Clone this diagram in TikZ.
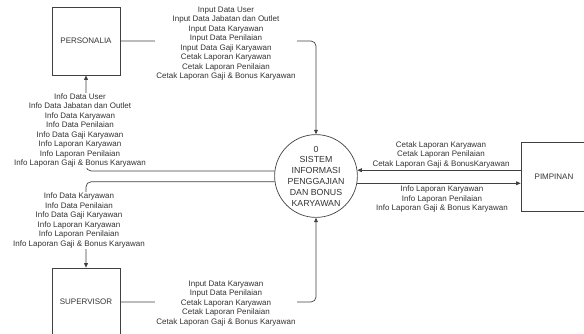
\documentclass[tikz,border=0pt]{standalone}
\usepackage{fontspec}
\setmainfont{Liberation Sans}
\usetikzlibrary{arrows.meta}
\begin{document}
\begin{tikzpicture}[x=1pt,y=-1pt,
  entity/.style={draw=black!75,line width=0.7pt,minimum width=68pt,minimum height=68pt,inner sep=0pt,
    text=black!80,font=\fontsize{8}{9.6}\selectfont},
  proc/.style={draw=black!75,line width=0.7pt,circle,minimum size=82pt,inner sep=0pt,align=center,
    text=black!80,font=\fontsize{8.8}{10.8}\selectfont},
  lbl/.style={fill=white,inner sep=1pt,align=center,text=black!80,font=\fontsize{8}{9.5}\selectfont},
  flow/.style={draw=black!75,line width=0.7pt,rounded corners=5pt,-{Triangle[length=4.5pt,width=3.8pt]}}]
\useasboundingbox (0,0) rectangle (584,333);
\node[entity] (pers) at (86,41) {PERSONALIA};
\node[entity] (sup) at (86,302) {SUPERVISOR};
\node[entity,minimum width=68pt,minimum height=69pt] (pim) at (555,176.5) {\hspace*{-2pt}PIMPINAN};
\node[proc] (circ) at (316,176) {0\\SISTEM\\INFORMASI\\PENGGAJIAN\\DAN BONUS\\KARYAWAN};

\draw[flow] (pers.east) -| (circ.north);
\draw[flow] (circ.173) -| (pers.south);
\draw[flow] (circ.188) -| (sup.north);
\draw[flow] (sup.east) -| (circ.south);
\draw[flow] (pim.west |- circ.8) -- (circ.8);
\draw[flow] (circ.350) -- (pim.west |- circ.350);

\node[lbl] (l1) at (226,43.5) {Input Data User\\Input Data Jabatan dan Outlet\\Input Data Karyawan\\Input Data Penilaian\\Input Data Gaji Karyawan\\Cetak Laporan Karyawan\\Cetak Laporan Penilaian\\Cetak Laporan Gaji \& Bonus Karyawan};
\node[lbl] (l2) at (80,130.5) {Info Data User\\Info Data Jabatan dan Outlet\\Info Data Karyawan\\Info Data Penilaian\\Info Data Gaji Karyawan\\Info Laporan Karyawan\\Info Laporan Penilaian\\Info Laporan Gaji \& Bonus Karyawan};
\node[lbl] (l3) at (79,220.5) {Info Data Karyawan\\Info Data Penilaian\\Info Data Gaji Karyawan\\Info Laporan Karyawan\\Info Laporan Penilaian\\Info Laporan Gaji \& Bonus Karyawan};
\node[lbl] (l4) at (226,303.5) {Input Data Karyawan\\Input Data Penilaian\\Cetak Laporan Karyawan\\Cetak Laporan Penilaian\\Cetak Laporan Gaji \& Bonus Karyawan};
\node[lbl,fill=none] (l5) at (441,154.5) {Cetak Laporan Karyawan\\Cetak Laporan Penilaian\\Cetak Laporan Gaji \& BonusKaryawan};
\node[lbl,fill=none] (l6) at (442,199) {Info Laporan Karyawan\\Info Laporan Penilaian\\Info Laporan Gaji \& Bonus Karyawan};
\end{tikzpicture}
\end{document}
